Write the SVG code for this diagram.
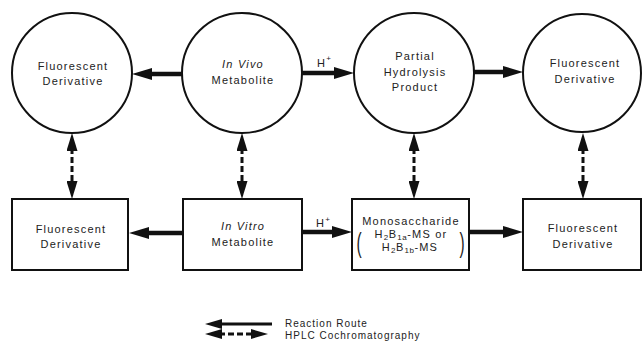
<svg xmlns="http://www.w3.org/2000/svg" width="642" height="352" viewBox="0 0 642 352">
<style>
.node{fill:#fff;stroke:#111;stroke-width:2}
text{font-family:"Liberation Sans",Arial,sans-serif;font-size:11px;letter-spacing:1.2px;fill:#222;text-anchor:middle}
.it{font-style:italic}
.lg{text-anchor:start;font-size:10px;letter-spacing:1px}
.rx{stroke:#111;stroke-width:4.5;fill:none}
.rxl{stroke:#111;stroke-width:3;fill:none}
.hp{stroke:#111;stroke-width:3;fill:none;stroke-dasharray:6 3}
.sub{font-size:8px;letter-spacing:0.5px}
.par{font-size:28px;letter-spacing:0}
</style>
<defs>
<marker id="ah" markerUnits="userSpaceOnUse" markerWidth="20" markerHeight="12" refX="3" refY="6" orient="auto-start-reverse"><path d="M0,0 L20,6 L0,12 z" fill="#111"/></marker>
<marker id="dh" markerUnits="userSpaceOnUse" markerWidth="18" markerHeight="11" refX="3" refY="5.5" orient="auto-start-reverse"><path d="M0,0 L18,5.5 L0,11 z" fill="#111"/></marker>
<marker id="lh" markerUnits="userSpaceOnUse" markerWidth="17" markerHeight="10" refX="3" refY="5" orient="auto-start-reverse"><path d="M0,0 L17,5 L0,10 z" fill="#111"/></marker>
</defs>
<g id="c1"><circle class="node" cx="72" cy="73" r="60"/><text x="73" y="70">Fluorescent</text><text x="73" y="85">Derivative</text></g>
<g id="c2"><circle class="node" cx="242" cy="73" r="60"/><text class="it" x="243" y="68">In Vivo</text><text x="243" y="84">Metabolite</text></g>
<g id="c3"><circle class="node" cx="414" cy="73" r="60"/><text x="415" y="60">Partial</text><text x="415" y="76">Hydrolysis</text><text x="415" y="91">Product</text></g>
<g id="c4"><circle class="node" cx="582" cy="73" r="59"/><text x="585" y="67">Fluorescent</text><text x="585" y="83">Derivative</text></g>
<g id="b1"><rect class="node" x="12" y="199" width="116" height="71"/><text x="71" y="233">Fluorescent</text><text x="71" y="248">Derivative</text></g>
<g id="b2"><rect class="node" x="183" y="199" width="119" height="71"/><text class="it" x="243" y="230">In Vitro</text><text x="243" y="246">Metabolite</text></g>
<g id="b3"><rect class="node" x="352" y="199" width="117" height="71"/><text x="411" y="225">Monosaccharide</text><text x="411" y="238">H<tspan class="sub" dy="2">2</tspan><tspan dy="-2">B</tspan><tspan class="sub" dy="2">1a</tspan><tspan dy="-2">-MS or</tspan></text><text x="410" y="251">H<tspan class="sub" dy="2">2</tspan><tspan dy="-2">B</tspan><tspan class="sub" dy="2">1b</tspan><tspan dy="-2">-MS</tspan></text><text class="par" transform="translate(359 252) scale(0.55 1)" x="0" y="0">(</text><text class="par" transform="translate(462 252) scale(0.55 1)" x="0" y="0">)</text></g>
<g id="b4"><rect class="node" x="523" y="199" width="118" height="71"/><text x="583" y="232">Fluorescent</text><text x="583" y="248">Derivative</text></g>
<g id="connectors">
<line class="rx" x1="182" y1="74" x2="149" y2="74" marker-end="url(#ah)"/>
<line class="rx" x1="302" y1="73" x2="337" y2="73" marker-end="url(#ah)"/>
<line class="rx" x1="474" y1="72" x2="506" y2="72" marker-end="url(#ah)"/>
<line class="rx" x1="183" y1="233" x2="146" y2="233" marker-end="url(#ah)"/>
<line class="rx" x1="302" y1="232" x2="335" y2="232" marker-end="url(#ah)"/>
<line class="rx" x1="469" y1="232" x2="506" y2="232" marker-end="url(#ah)"/>
<line class="hp" x1="72" y1="148" x2="72" y2="184" marker-start="url(#dh)" marker-end="url(#dh)"/>
<line class="hp" x1="242" y1="148" x2="242" y2="184" marker-start="url(#dh)" marker-end="url(#dh)"/>
<line class="hp" x1="414" y1="148" x2="414" y2="184" marker-start="url(#dh)" marker-end="url(#dh)"/>
<line class="hp" x1="583" y1="148" x2="583" y2="184" marker-start="url(#dh)" marker-end="url(#dh)"/>
<text x="322" y="67" style="text-anchor:start" transform="translate(-5 0)">H<tspan class="sub" dy="-6">+</tspan></text>
<text x="321" y="227" style="text-anchor:start" transform="translate(-5 0)">H<tspan class="sub" dy="-5">+</tspan></text>
</g>
<g id="legend">
<line class="rxl" x1="272" y1="324" x2="219" y2="324" marker-end="url(#lh)"/>
<line class="hp" x1="219" y1="334" x2="254" y2="334" marker-start="url(#lh)" marker-end="url(#lh)"/>
<text class="lg" x="285" y="327">Reaction Route</text>
<text class="lg" x="285" y="339">HPLC Cochromatography</text>
</g>
</svg>
